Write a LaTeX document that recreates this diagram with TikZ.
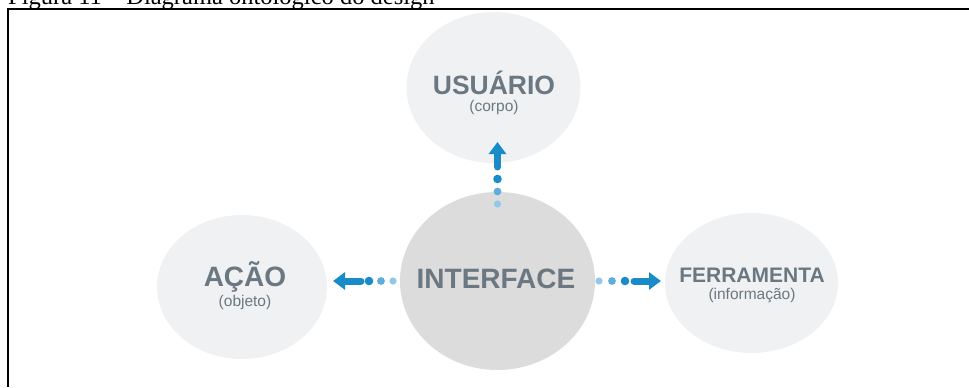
\documentclass[tikz,border=0pt]{standalone}
\usepackage{fontspec}
\setmainfont{Liberation Serif}
\newfontfamily\lsans{Liberation Sans}
\usetikzlibrary{shapes.geometric,arrows.meta}
\definecolor{lightc}{HTML}{F0F1F3}
\definecolor{ifacec}{HTML}{DCDCDC}
\definecolor{txtc}{HTML}{6B7881}
\definecolor{dotA}{HTML}{92C9E9}
\definecolor{dotB}{HTML}{5EADDD}
\definecolor{dotC}{HTML}{1A8BC9}
\tikzset{
  bubble/.style={ellipse, fill=lightc, draw=none, inner sep=0pt},
  ibubble/.style={ellipse, fill=ifacec, draw=none, inner sep=0pt},
  bigtxt/.style={anchor=base, inner sep=0pt, text=txtc, font=\lsans\bfseries\fontsize{26.5}{30}\selectfont},
  smalltxt/.style={anchor=base, inner sep=0pt, text=txtc, font=\lsans\fontsize{15.5}{18}\selectfont},
  blarrow/.style={draw=dotC, line width=7pt, line cap=round, -{Triangle[width=17pt,length=12pt]}},
  frameline/.style={draw=black, line width=2pt},
}
\begin{document}
\begin{tikzpicture}[x=1pt,y=-1pt]
\clip (0,0) rectangle (969,388);
\useasboundingbox (0,0) rectangle (969,388);
% caption (cut by the page top)
\node[anchor=base west, inner sep=0pt, font=\fontsize{24.5}{28}\selectfont] (cap) at (8,5) {Figura 11 -- Diagrama ontológico do design};
% frame
\draw[frameline] (8,387) -- (8,9) -- (969,9);
% bubbles
\node[bubble, minimum width=174pt, minimum height=151pt] (usuario) at (493.5,87.5) {};
\node[bubble, minimum width=170pt, minimum height=144pt] (acao) at (242,287) {};
\node[bubble, minimum width=173pt, minimum height=140pt] (ferr) at (751.5,283) {};
\node[ibubble, minimum width=195pt, minimum height=178pt] (iface) at (497.5,281) {};
% texts
\node[bigtxt] (usuarioT) at (494,94) {USUÁRIO};
\node[smalltxt] (usuarioS) at (494,111) {(corpo)};
\node[bigtxt, font=\lsans\bfseries\fontsize{28}{32}\selectfont] (ifaceT) at (496,288) {INTERFACE};
\node[bigtxt, font=\lsans\bfseries\fontsize{28}{32}\selectfont] (acaoT) at (245,286) {AÇÃO};
\node[smalltxt] (acaoS) at (245,306) {(objeto)};
\node[bigtxt, font=\lsans\bfseries\fontsize{21}{24}\selectfont] (ferrT) at (752,282) {FERRAMENTA};
\node[smalltxt] (ferrS) at (752,299) {(informação)};
% up connector
\coordinate (u0) at (497.5,167);
\coordinate (u1) at (497.5,142);
\fill[dotA] (497.5,204) circle (3.6);
\fill[dotB] (497.5,191.5) circle (3.9);
\fill[dotC] (497.5,179) circle (4.3);
\draw[blarrow] (u0) -- (u1);
% right connector
\coordinate (r0) at (634,281);
\coordinate (r1) at (661,281);
\fill[dotA] (599,281) circle (3.6);
\fill[dotB] (612,281) circle (3.9);
\fill[dotC] (625,281) circle (4.3);
\draw[blarrow] (r0) -- (r1);
% left connector
\coordinate (l0) at (361,281);
\coordinate (l1) at (333,281);
\fill[dotA] (393,281) circle (3.6);
\fill[dotB] (381,281) circle (3.9);
\fill[dotC] (369,281) circle (4.3);
\draw[blarrow] (l0) -- (l1);
\end{tikzpicture}
\end{document}
